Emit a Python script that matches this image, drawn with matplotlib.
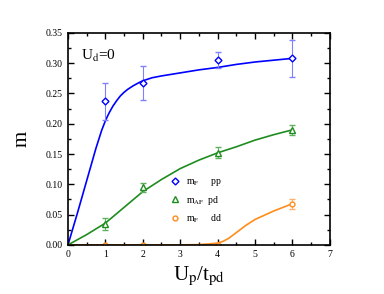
import numpy as np
import matplotlib
matplotlib.use("Agg")
import matplotlib.pyplot as plt
from matplotlib.lines import Line2D

plt.rcParams["font.family"] = ["Liberation Serif", "DejaVu Serif"]
plt.rcParams["mathtext.fontset"] = "stix"

# data points (U_p/t_pd, m, error)
x_pts = [1, 2, 4, 6]
pp_m = [0.237, 0.267, 0.305, 0.308]
pp_err = [0.030, 0.028, 0.013, 0.030]
pd_m = [0.035, 0.095, 0.152, 0.190]
pd_err = [0.010, 0.007, 0.009, 0.008]
dd_m = [0.0, 0.0, 0.0, 0.068]
dd_err = [0.0, 0.0, 0.0, 0.008]

# fitted curves
pp_cx = [0, 0.25, 0.5, 0.75, 0.9, 1.0, 1.1, 1.2, 1.3, 1.4, 1.5, 1.6, 1.75, 1.9, 2.0,
         2.25, 2.5, 3.0, 3.5, 4.0, 4.5, 5.0, 5.5, 6.0]
pp_cy = [0, 0.052, 0.106, 0.160, 0.189, 0.205, 0.218, 0.229, 0.238, 0.246, 0.252, 0.257,
         0.263, 0.268, 0.271, 0.276, 0.279, 0.284, 0.289, 0.293, 0.298, 0.302, 0.305, 0.308]
pd_cx = [0, 0.5, 1.0, 1.5, 2.0, 2.5, 3.0, 3.5, 4.0, 4.5, 5.0, 5.5, 6.0]
pd_cy = [0, 0.017, 0.036, 0.062, 0.088, 0.108, 0.126, 0.140, 0.152, 0.162, 0.173, 0.182, 0.190]
dd_cx = [0, 1, 2, 3, 3.5, 3.75, 4.0, 4.15, 4.3, 4.45, 4.6, 4.75, 5.0, 5.25, 5.5, 5.75, 6.0]
dd_cy = [0, 0, 0, 0, 0.0005, 0.0015, 0.003, 0.006, 0.011, 0.018, 0.025, 0.032, 0.042,
         0.049, 0.056, 0.062, 0.068]

blue = "#0000ff"
green = "#1f8c1f"
orange = "#ff8c1a"

fig = plt.figure(figsize=(3.84, 2.94), dpi=100)
ax = fig.add_axes([0.177, 0.167, 0.682, 0.721])

ax.plot(pp_cx, pp_cy, color=blue, lw=1.2)
ax.plot(pd_cx, pd_cy, color=green, lw=1.2)
ax.plot(dd_cx, dd_cy, color=orange, lw=1.2)

ax.errorbar(x_pts, pp_m, yerr=pp_err, fmt="D", ms=3.5, mfc="white", mec=blue, mew=1,
            ecolor="#8080ff", elinewidth=0.8, capsize=2, capthick=0.8)
ax.errorbar(x_pts, pd_m, yerr=pd_err, fmt="^", ms=4, mfc="white", mec=green, mew=1,
            ecolor="#60b060", elinewidth=0.8, capsize=2, capthick=0.8)
ax.errorbar(x_pts, dd_m, yerr=dd_err, fmt="o", ms=3.5, mfc="white", mec=orange, mew=1,
            ecolor="#ffb070", elinewidth=0.8, capsize=2, capthick=0.8)

ax.set_xlim(0, 7)
ax.set_ylim(0, 0.35)
ax.set_xticks(np.arange(0, 8, 1))
ax.set_xticks(np.arange(0, 7.01, 0.5), minor=True)
ax.set_yticks(np.arange(0, 0.351, 0.05))
ax.set_yticks(np.arange(0, 0.351, 0.025), minor=True)
ax.set_yticklabels([f"{v:.2f}" for v in np.arange(0, 0.351, 0.05)])
ax.tick_params(which="both", direction="in", top=True, right=True, labelsize=7)
ax.tick_params(which="major", length=4, width=1)
ax.tick_params(which="minor", length=2, width=1)
for s in ax.spines.values():
    s.set_linewidth(1.2)

ax.set_ylabel("m", fontsize=15, labelpad=10)
ax.set_xlabel(r"U$_{\mathrm{p}}$/t$_{\mathrm{pd}}$", fontsize=15, labelpad=4)
ax.text(0.05, 0.93, r"U$_{\mathrm{d}}$=0", transform=ax.transAxes, fontsize=11, va="top")

handles = [
    Line2D([], [], ls="none", marker="D", ms=3.5, mfc="white", mec=blue, mew=1),
    Line2D([], [], ls="none", marker="^", ms=4, mfc="white", mec=green, mew=1),
    Line2D([], [], ls="none", marker="o", ms=3.5, mfc="white", mec=orange, mew=1),
]
labels = [r"m$_{\mathrm{F}}$     pp", r"m$_{\mathrm{AF}}$  pd", r"m$_{\mathrm{F}}$     dd"]
ax.legend(handles, labels, loc="lower left", bbox_to_anchor=(0.37, 0.075), frameon=False,
          fontsize=7, handletextpad=0.6, labelspacing=0.6, handlelength=1.2,
          borderaxespad=0)

fig.savefig("out.png", dpi=100)
